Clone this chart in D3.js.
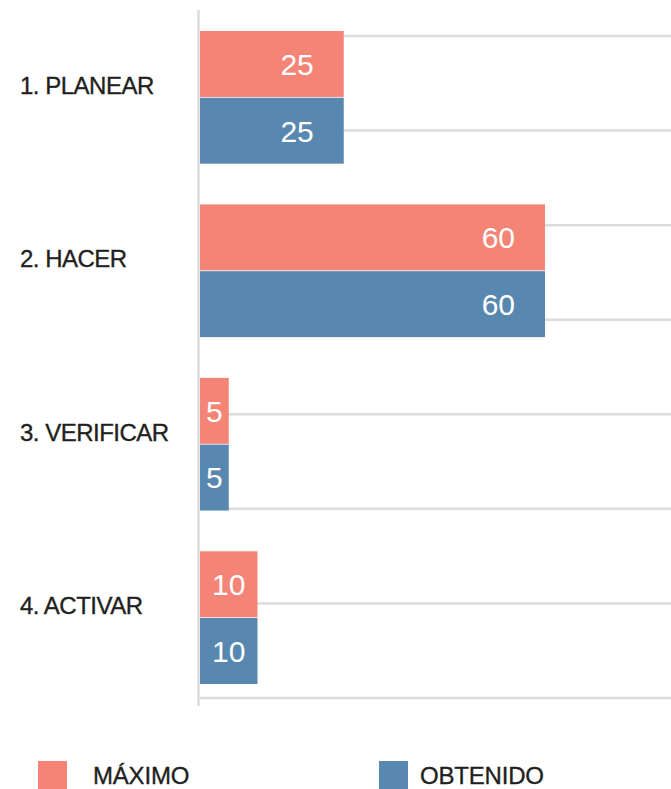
<!DOCTYPE html>
<html lang="es">
<head>
    <meta charset="UTF-8">
    <title>Puntaje por fase</title>
    <style>
        body {
            margin: 0;
            background: #fff;
            font-family: "Liberation Sans", Arial, sans-serif;
        }
        .cat-label {
            font-size: 24px;
            fill: #231f20;
            stroke: #231f20;
            stroke-width: 0.35px;
            letter-spacing: -0.5px;
        }
        .val-label {
            font-size: 30px;
            fill: #fff;
        }
        .legend-label {
            font-size: 24px;
            fill: #231f20;
            stroke: #231f20;
            stroke-width: 0.35px;
            letter-spacing: -0.2px;
        }
    </style>
    <script src="https://d3js.org/d3.v7.min.js"></script>
</head>
<body>
    <div id="chart"></div>
    <script>
        // data
        const categories = ["1. PLANEAR", "2. HACER", "3. VERIFICAR", "4. ACTIVAR"];
        const seriesNames = ["MÁXIMO", "OBTENIDO"];
        const maximo = [25, 60, 5, 10];
        const obtenido = [25, 60, 5, 10];
        const colors = ["#f48576", "#5888b0"];

        const W = 671, H = 789;
        const left = 200;

        const svg = d3.select("#chart")
            .append("svg")
            .attr("width", W)
            .attr("height", H);

        const rows = categories.map((c, i) => ({cat: c, values: [maximo[i], obtenido[i]]}));

        const x = d3.scaleLinear().domain([0, 60]).range([left, 545]);
        const y = d3.scaleBand().domain(categories).range([31, 684]).paddingInner(0.235);
        const ySub = d3.scaleBand().domain(seriesNames).range([0, y.bandwidth()]).paddingInner(0.012);

        // horizontal gridlines (behind bars)
        const grid = d3.scalePoint().domain(d3.range(8)).range([36, 698]);
        svg.append("g")
            .selectAll("line")
            .data(grid.domain())
            .join("line")
            .attr("x1", left)
            .attr("x2", W)
            .attr("y1", d => grid(d))
            .attr("y2", d => grid(d))
            .attr("stroke", "#dcdcdc")
            .attr("stroke-width", 2.5);

        // vertical axis line
        svg.append("line")
            .attr("x1", left - 1.5)
            .attr("x2", left - 1.5)
            .attr("y1", 10)
            .attr("y2", 706)
            .attr("stroke", "#dcdcdc")
            .attr("stroke-width", 2.5);

        const groups = svg.append("g")
            .selectAll("g")
            .data(rows)
            .join("g")
            .attr("transform", d => `translate(0,${y(d.cat)})`);

        groups.selectAll("rect")
            .data(d => d.values.map((v, j) => ({key: seriesNames[j], v, j})))
            .join("rect")
            .attr("x", x(0))
            .attr("y", d => ySub(d.key))
            .attr("width", d => x(d.v) - x(0))
            .attr("height", ySub.bandwidth())
            .attr("fill", d => colors[d.j]);

        groups.selectAll("text.val-label")
            .data(d => d.values.map((v, j) => ({key: seriesNames[j], v, j})))
            .join("text")
            .attr("class", "val-label")
            .attr("x", d => (x(d.v) - x(0) > 80) ? x(d.v) - 30 : (x(0) + x(d.v)) / 2)
            .attr("text-anchor", d => (x(d.v) - x(0) > 80) ? "end" : "middle")
            .attr("y", d => ySub(d.key) + ySub.bandwidth() / 2)
            .attr("dy", "0.36em")
            .text(d => d.v);

        // category labels
        svg.append("g")
            .selectAll("text")
            .data(categories)
            .join("text")
            .attr("class", "cat-label")
            .attr("x", 20)
            .attr("y", d => y(d) + y.bandwidth() / 2 - 12)
            .attr("dy", "0.36em")
            .text(d => d);

        // legend
        const legendX = d3.scalePoint().domain(seriesNames).range([38, 379]);
        const legend = svg.append("g")
            .selectAll("g")
            .data(seriesNames)
            .join("g")
            .attr("transform", d => `translate(${legendX(d)},761)`);

        legend.append("rect")
            .attr("width", 29)
            .attr("height", 29)
            .attr("fill", (d, i) => colors[i]);

        legend.append("text")
            .attr("class", "legend-label")
            .attr("x", (d, i) => i === 0 ? 55 : 41)
            .attr("y", 14)
            .attr("dy", "0.36em")
            .text(d => d);
    </script>
</body>
</html>
